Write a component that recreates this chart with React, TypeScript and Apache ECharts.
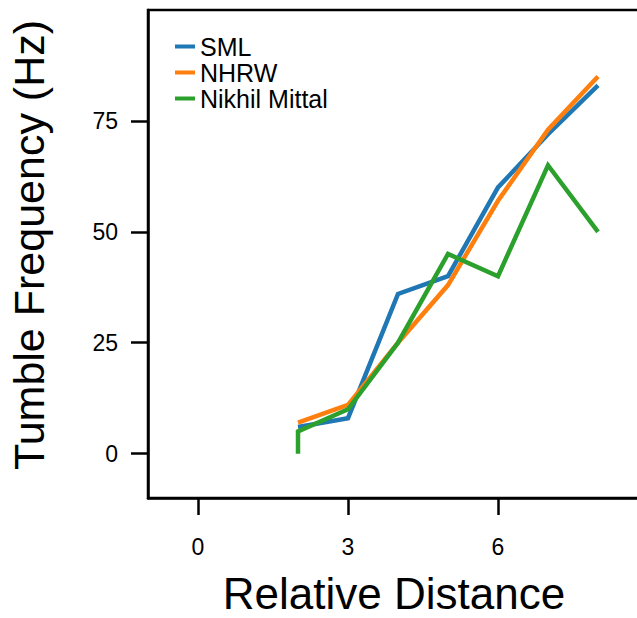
import React, { useEffect, useRef } from "react";
import * as echarts from "echarts";

const seriesNames = ["SML", "NHRW", "Nikhil Mittal"];
const colors = ["#1f77b4", "#ff7f0e", "#2ca02c"];
const smlX = [2, 3, 4, 5, 6, 7, 8];
const smlY = [6, 8, 36, 40, 60, 72, 83];
const nhrwX = [2, 3, 4, 5, 6, 7, 8];
const nhrwY = [7, 11, 25, 38, 57, 73, 85];
const mittalX = [2, 2, 3, 4, 5, 6, 7, 8];
const mittalY = [0, 5, 10, 25, 45, 40, 65, 50];
const xTicks = [0, 3, 6];
const yTicks = [0, 25, 50, 75];
const xTitle = "Relative Distance";
const yTitle = "Tumble Frequency (Hz)";

const FONT = "Liberation Sans, Arial, sans-serif";

function zip(xs: number[], ys: number[]) {
  return xs.map((x, i) => [x, ys[i]]);
}

export default function App() {
  const ref = useRef<HTMLDivElement>(null);
  useEffect(() => {
    if (!ref.current) return;
    const chart = echarts.init(ref.current, null, { renderer: "svg" });
    const datas = [zip(smlX, smlY), zip(nhrwX, nhrwY), zip(mittalX, mittalY)];
    chart.setOption({
      animation: false,
      backgroundColor: "#ffffff",
      textStyle: { fontFamily: FONT, color: "#000" },
      grid: {
        left: 148,
        top: 10,
        width: 500,
        height: 488,
        show: true,
        borderColor: "#000",
        borderWidth: 2.5,
        backgroundColor: "transparent",
        containLabel: false,
        outerBoundsMode: "none",
      },
      legend: {
        show: true,
        orient: "vertical",
        left: 170,
        top: 29,
        icon: "rect",
        itemWidth: 20,
        itemHeight: 4,
        itemGap: 1,
        textStyle: { fontFamily: FONT, fontSize: 25, color: "#000" },
        data: seriesNames,
      },
      xAxis: {
        type: "value",
        min: -1,
        max: 9,
        splitLine: { show: false },
        axisLine: { show: true, onZero: false, lineStyle: { color: "#000", width: 2.5 } },
        axisTick: {
          show: true,
          inside: false,
          length: 17,
          customValues: xTicks,
          lineStyle: { color: "#000", width: 2.5 },
        },
        axisLabel: {
          show: true,
          customValues: xTicks,
          margin: 37,
          fontSize: 23,
          fontFamily: FONT,
          color: "#000",
        },
      },
      yAxis: {
        type: "value",
        min: -10,
        max: 100,
        splitLine: { show: false },
        axisLine: { show: true, onZero: false, lineStyle: { color: "#000", width: 2.5 } },
        axisTick: {
          show: true,
          inside: false,
          length: 17,
          customValues: yTicks,
          lineStyle: { color: "#000", width: 2.5 },
        },
        axisLabel: {
          show: true,
          customValues: yTicks,
          margin: 30,
          fontSize: 23,
          fontFamily: FONT,
          color: "#000",
        },
      },
      graphic: [
        {
          type: "text",
          x: 394,
          y: 593,
          style: {
            text: xTitle,
            fontSize: 44,
            lineHeight: 36,
            fontFamily: FONT,
            fill: "#000",
            align: "center",
            verticalAlign: "middle",
          },
        },
        {
          type: "text",
          x: 29,
          y: 245,
          rotation: Math.PI / 2,
          style: {
            text: yTitle,
            fontSize: 43,
            lineHeight: 36,
            fontFamily: FONT,
            fill: "#000",
            align: "center",
            verticalAlign: "middle",
          },
        },
      ],
      series: seriesNames.map((name, i) => ({
        name,
        type: "line",
        data: datas[i],
        showSymbol: false,
        symbol: "none",
        color: colors[i],
        lineStyle: { color: colors[i], width: 4.5, cap: "butt", join: "miter" },
        z: 2 + i,
      })),
    });
    return () => chart.dispose();
  }, []);
  return (
    <div
      ref={ref}
      style={{ position: "absolute", left: 0, top: 0, width: 637, height: 618 }}
    />
  );
}
